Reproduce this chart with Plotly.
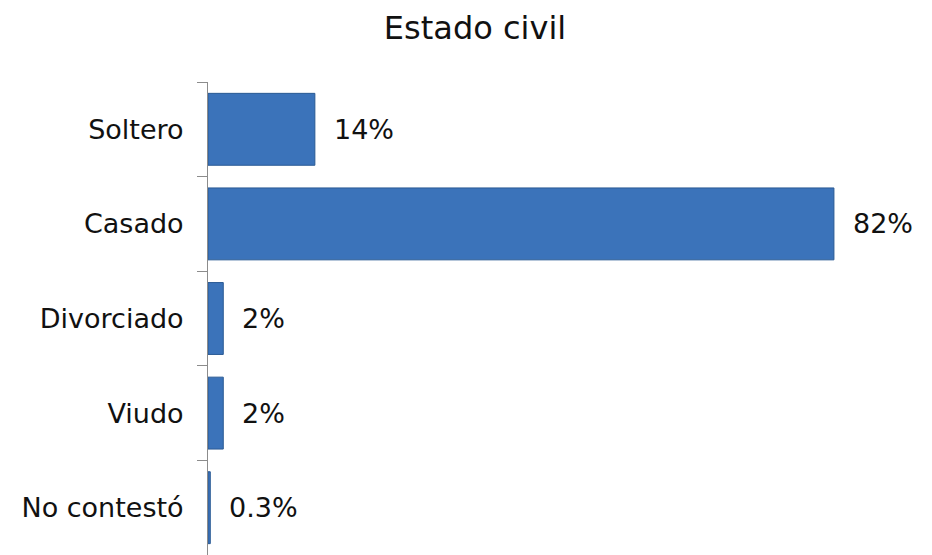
import plotly.graph_objects as go

categories = ["Soltero", "Casado", "Divorciado", "Viudo", "No contestó"]
values = [14, 82, 2, 2, 0.3]
labels = ["14%", "82%", "2%", "2%", "0.3%"]

FONT = "DejaVu Sans"

fig = go.Figure()
fig.add_trace(go.Bar(
    y=categories, x=values, orientation="h",
    marker=dict(color="#3b73ba", line=dict(color="#2a5a94", width=1)),
    hoverinfo="skip",
))

for c, v, t in zip(categories, values, labels):
    fig.add_annotation(x=v, y=c, text=t, showarrow=False, xanchor="left",
                       xshift=17, font=dict(family=FONT, size=27, color="#111111"))

fig.update_layout(
    width=932, height=555,
    margin=dict(l=208, r=37, t=82, b=0, autoexpand=False),
    paper_bgcolor="white", plot_bgcolor="white",
    bargap=0.24,
    showlegend=False,
    title=dict(text="Estado civil", x=475 / 932, xanchor="center", xref="container",
               y=1 - 28 / 555, yref="container", yanchor="middle",
               font=dict(family=FONT, size=32, color="#111111")),
    xaxis=dict(range=[0, 90], visible=False, fixedrange=True, automargin=False),
    yaxis=dict(autorange="reversed", showline=True, linecolor="#8c8c8c", linewidth=1,
               ticks="outside", ticklen=10, tickcolor="#8c8c8c", tickson="boundaries",
               ticklabelstandoff=18, showgrid=False, automargin=False,
               tickfont=dict(family=FONT, size=27, color="#111111")),
)

fig.write_html("out.html", config={"displayModeBar": False},
               post_script="document.body.style.margin='0';document.body.style.overflow='hidden';")
